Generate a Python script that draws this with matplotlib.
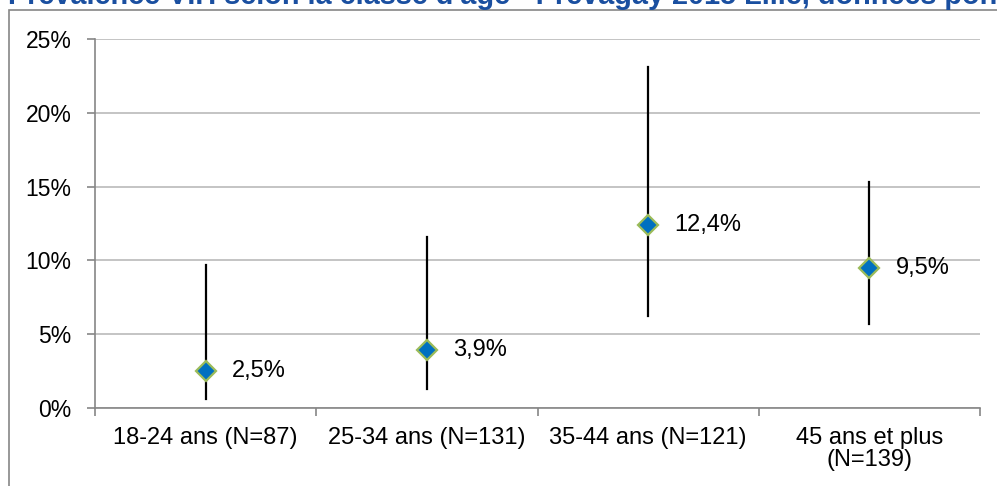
import matplotlib.pyplot as plt
import matplotlib.patches as mpatches
from matplotlib.ticker import FuncFormatter, FixedLocator
import numpy as np

plt.rcParams['font.family'] = ['Liberation Sans', 'DejaVu Sans']

# Données
categories = ['18-24 ans (N=87)', '25-34 ans (N=131)', '35-44 ans (N=121)', '45 ans et plus\n(N=139)']
prevalence = [2.5, 3.9, 12.4, 9.5]
ic_bas = [0.6, 1.3, 6.2, 5.7]
ic_haut = [9.7, 11.6, 23.1, 15.3]
labels = ['2,5%', '3,9%', '12,4%', '9,5%']
titre = "Prévalence VIH selon la classe d'âge - Prevagay 2015 Lille, données pondérées"

W, H = 997, 486
fig = plt.figure(figsize=(W / 100, H / 100), dpi=100)
ax = fig.add_axes([95 / W, (H - 408) / H, (980 - 95) / W, (408 - 39) / H])

# Cadre du graphique
fig.patches.append(mpatches.Rectangle((9 / W, -0.2), 1.2, (H - 10) / H + 0.2,
                                      transform=fig.transFigure, fill=False,
                                      edgecolor='#868686', linewidth=1.2, clip_on=False))

# Titre (coupé en haut)
fig.text(8 / W, (H - 4.5) / H, titre, fontsize=20.8, fontweight='bold', color='#1A4FA0',
         ha='left', va='baseline')

x = np.arange(len(categories))
for i in range(len(categories)):
    ax.plot([x[i], x[i]], [ic_bas[i], ic_haut[i]], color='black', linewidth=1.6, zorder=3)
ax.plot(x, prevalence, linestyle='none', marker='D', markersize=10.5,
        markerfacecolor='#0070C0', markeredgecolor='#9BBB59', markeredgewidth=1.6, zorder=4)
for i in range(len(categories)):
    ax.annotate(labels[i], (x[i], prevalence[i]), xytext=(19, 0), textcoords='offset points',
                ha='left', va='center', fontsize=17)

ax.set_xlim(-0.5, len(categories) - 0.5)
ax.set_ylim(0, 25)
ax.set_yticks(np.arange(0, 26, 5))
ax.yaxis.set_major_formatter(FuncFormatter(lambda v, p: f'{int(v)}%'))
ax.yaxis.grid(True, color='#BFBFBF', linewidth=1.3)
ax.set_axisbelow(True)

ax.set_xticks(x)
ax.set_xticklabels(categories, fontsize=17, linespacing=1.0)
ax.xaxis.set_minor_locator(FixedLocator(np.arange(-0.5, len(categories), 1)))
ax.tick_params(axis='x', which='major', length=0, pad=14)
ax.tick_params(axis='x', which='minor', length=6, color='#868686', width=1.2)
ax.tick_params(axis='y', length=6, color='#868686', width=1.2, labelsize=16.5, pad=11)

for s in ['top', 'right']:
    ax.spines[s].set_visible(False)
for s in ['left', 'bottom']:
    ax.spines[s].set_color('#868686')
    ax.spines[s].set_linewidth(1.2)

plt.savefig('out.png', dpi=100)
